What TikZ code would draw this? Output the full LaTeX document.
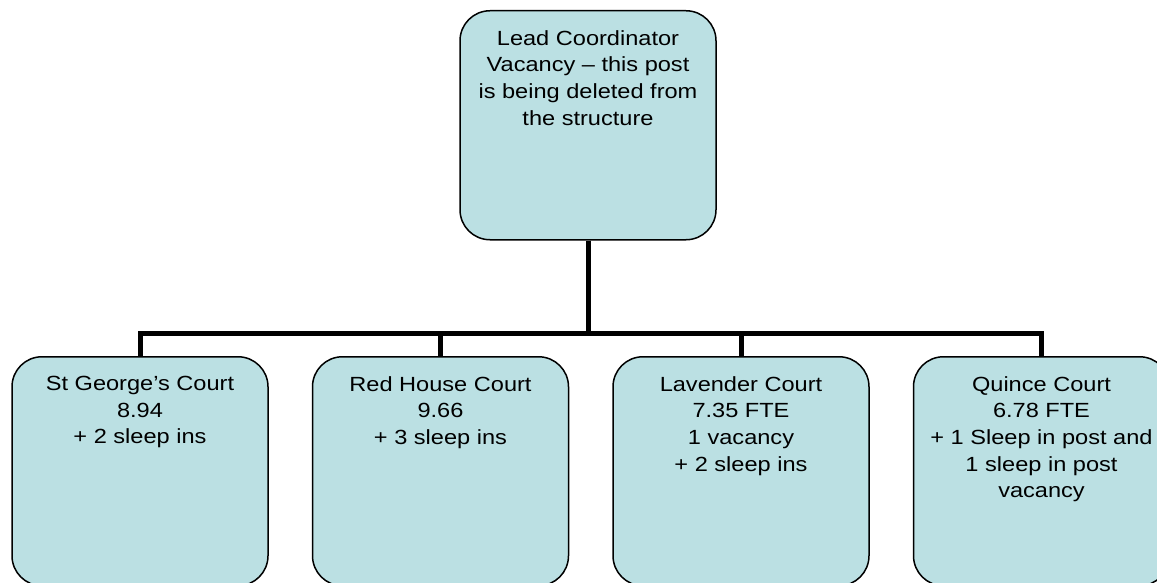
\documentclass[tikz,border=0pt]{standalone}
\usepackage{fontspec}
\setmainfont{Liberation Sans}[FakeStretch=1.15]
\usetikzlibrary{positioning}
\definecolor{postfill}{RGB}{187,224,227}
\newcommand{\posttext}[1]{\parbox[t][190pt][t]{250pt}{\centering #1}}

\begin{document}
\begin{tikzpicture}[x=1pt, y=-1pt,
      post/.style={draw, fill=postfill, rounded corners=30pt, line width=1.5pt, minimum width=256pt, minimum height=229pt, inner xsep=3pt, inner ysep=18pt, anchor=north, font=\fontsize{20.5}{26.7}\selectfont},
      branch/.style={line width=5pt}
    ]
    \useasboundingbox (0,0) rectangle (1157,583);

    \node[post] (lead) at (588,10) {\posttext{Lead Coordinator\\Vacancy – this post\\is being deleted from\\the structure}};

    \node[post] (stg) at (140,356) {\posttext{St George’s Court\\8.94\\+ 2 sleep ins}};
    \node[post, right=43pt of stg] (redh) {\posttext{Red House Court\\9.66\\+ 3 sleep ins}};
    \node[post, right=43pt of redh] (lav) {\posttext{Lavender Court\\7.35 FTE\\1 vacancy\\+ 2 sleep ins}};
    \node[post, right=43pt of lav] (quin) {\posttext{Quince Court\\6.78 FTE\\+ 1 Sleep in post and\\1 sleep in post\\vacancy}};

    \draw[branch] (lead.south) -- ++(0,93) -| (stg.north);
    \draw[branch] (lead.south) -- ++(0,93) -| (redh.north);
    \draw[branch] (lead.south) -- ++(0,93) -| (lav.north);
    \draw[branch] (lead.south) -- ++(0,93) -| (quin.north);
  \end{tikzpicture}
\end{document}
